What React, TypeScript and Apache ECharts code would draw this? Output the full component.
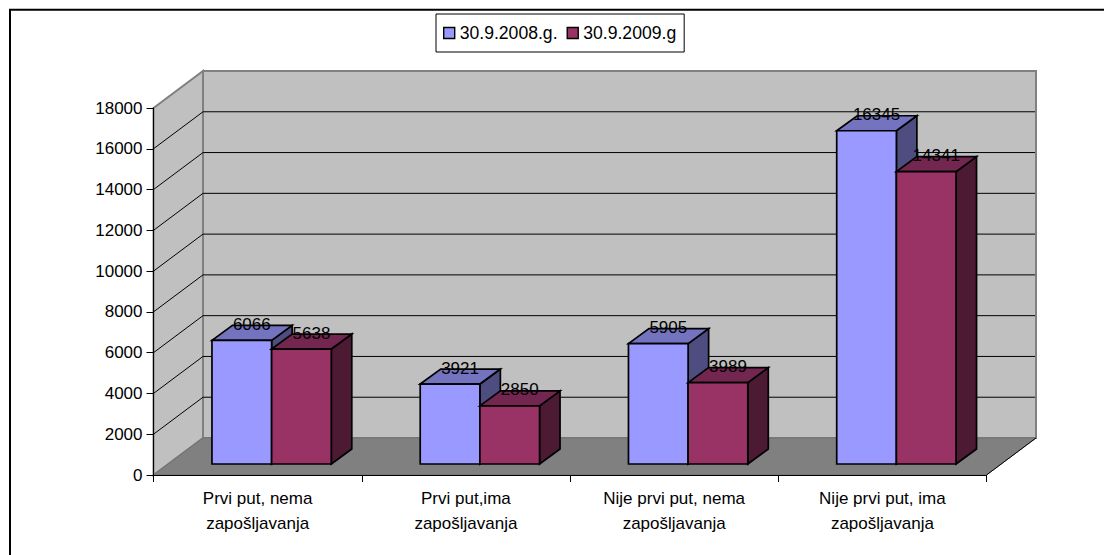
import React, { useEffect, useRef } from "react";
import * as echarts from "echarts";

const categories = [
  "Prvi put, nema\nzapošljavanja",
  "Prvi put,ima\nzapošljavanja",
  "Nije prvi put, nema\nzapošljavanja",
  "Nije prvi put, ima\nzapošljavanja",
];
const seriesNames = ["30.9.2008.g.", "30.9.2009.g"];
const values2008 = [6066, 3921, 5905, 16345];
const values2009 = [5638, 2850, 3989, 14341];
const wallTicks = [2000, 4000, 6000, 8000, 10000, 12000, 14000, 16000];
const axisMax = 18000;
const axisStep = 2000;

const FONT = "Liberation Sans";
const FS = 17;
// projection of the 3D look
const WALL_DX = 49.5;
const WALL_DY = 37;
const BAR_DX = 20.5;
const BAR_DY = 15;
const FLOOR_DX = 14;
const FLOOR_DY = 11;
const BAR_RATIO = 0.2865;

const palette = [
  { front: "#9999ff", top: "#7373bf", side: "#4d4d80" },
  { front: "#993366", top: "#732650", side: "#4d1a33" },
];

function wallRender(params: any, api: any) {
  const c = params.coordSys;
  const l = c.x, r = c.x + c.width, t = c.y, b = c.y + c.height;
  const grey = { fill: "#c0c0c0", stroke: "#808080", lineWidth: 2 };
  return {
    type: "group",
    children: [
      { type: "polygon", shape: { points: [[l + WALL_DX, t - WALL_DY], [r + WALL_DX, t - WALL_DY], [r + WALL_DX, b - WALL_DY], [l + WALL_DX, b - WALL_DY]] }, style: grey },
      { type: "polygon", shape: { points: [[l, t], [l + WALL_DX, t - WALL_DY], [l + WALL_DX, b - WALL_DY], [l, b]] }, style: grey },
      { type: "polygon", shape: { points: [[l, b], [l + WALL_DX, b - WALL_DY], [r + WALL_DX, b - WALL_DY], [r, b]] }, style: { fill: "#808080", stroke: "#707070", lineWidth: 1 } },
      { type: "line", shape: { x1: r, y1: b, x2: r + WALL_DX, y2: b - WALL_DY }, style: { stroke: "#000", lineWidth: 1 } },
    ],
  };
}

function gridRender(params: any, api: any) {
  const c = params.coordSys;
  const y = api.coord([0, api.value(1)])[1];
  return {
    type: "polyline",
    shape: { points: [[c.x, y], [c.x + WALL_DX, y - WALL_DY], [c.x + c.width + WALL_DX - 1, y - WALL_DY]] },
    style: { fill: "none", stroke: "#000", lineWidth: 1 },
  };
}

function barRender(seriesIndex: number) {
  return (params: any, api: any) => {
    const col = palette[seriesIndex];
    const cat = api.value(0);
    const val = api.value(1);
    const center = api.coord([cat, 0]);
    const top = api.coord([cat, val]);
    const w = api.size([1, 0])[0] * BAR_RATIO;
    const x0 = center[0] + FLOOR_DX + (seriesIndex - 1) * w;
    const x1 = x0 + w;
    const yb = center[1] - FLOOR_DY;
    const yt = top[1] - FLOOR_DY;
    const line = { stroke: "#000", lineWidth: 1.7, lineJoin: "miter" };
    return {
      type: "group",
      children: [
        { type: "polygon", shape: { points: [[x1, yt], [x1 + BAR_DX, yt - BAR_DY], [x1 + BAR_DX, yb - BAR_DY], [x1, yb]] }, style: { fill: col.side, ...line } },
        { type: "polygon", shape: { points: [[x0, yt], [x0 + BAR_DX, yt - BAR_DY], [x1 + BAR_DX, yt - BAR_DY], [x1, yt]] }, style: { fill: col.top, ...line } },
        { type: "rect", shape: { x: x0, y: yt, width: w, height: yb - yt }, style: { fill: col.front, ...line } },
        {
          type: "text",
          z2: 100,
          style: {
            text: String(val),
            x: (x0 + x1) / 2 + 10,
            y: yt - 16,
            fill: "#000",
            fontFamily: FONT,
            fontSize: FS,
            align: "center",
            verticalAlign: "middle",
          },
        },
      ],
    };
  };
}

export default function App() {
  const ref = useRef<HTMLDivElement>(null);
  useEffect(() => {
    document.body.style.margin = "0";
    const chart = echarts.init(ref.current!, null, { renderer: "svg" });
    chart.setOption({
      animation: false,
      backgroundColor: "#fff",
      tooltip: { show: false },
      grid: { left: 153.5, right: 117.5, top: 108, bottom: 80, containLabel: false },
      legend: {
        data: seriesNames.map((name) => ({ name, icon: "rect" })),
        left: 436,
        top: 14,
        orient: "horizontal",
        itemWidth: 11,
        itemHeight: 11,
        itemGap: 9,
        padding: [10, 8, 10, 7],
        borderColor: "#000",
        borderWidth: 1,
        backgroundColor: "#fff",
        selectedMode: false,
        itemStyle: { borderColor: "#000", borderWidth: 1.4 },
        textStyle: { fontFamily: FONT, fontSize: 17.6, color: "#000" },
      },
      xAxis: {
        type: "category",
        data: categories,
        z: 5,
        boundaryGap: true,
        axisLine: { show: true, lineStyle: { color: "#000", width: 1 } },
        axisTick: { show: true, length: 7, alignWithLabel: false, lineStyle: { color: "#000", width: 1 } },
        axisLabel: { interval: 0, margin: 11, fontFamily: FONT, fontSize: FS, color: "#000", lineHeight: 25 },
        splitLine: { show: false },
      },
      yAxis: {
        type: "value",
        min: 0,
        max: axisMax,
        interval: axisStep,
        z: 5,
        axisLine: { show: true, lineStyle: { color: "#000", width: 1 } },
        axisTick: { show: true, length: 7, lineStyle: { color: "#000", width: 1 } },
        axisLabel: { margin: 11, fontFamily: FONT, fontSize: FS, color: "#000", formatter: (v: number) => String(v) },
        splitLine: { show: false },
      },
      graphic: [
        { type: "line", z: 10, shape: { x1: 9, y1: 9.75, x2: 1104, y2: 9.75 }, style: { stroke: "#000", lineWidth: 2 } },
        { type: "line", z: 10, shape: { x1: 10, y1: 9, x2: 10, y2: 555 }, style: { stroke: "#000", lineWidth: 2 } },
      ],
      series: [
        { type: "custom", name: "walls", z: 1, silent: true, renderItem: wallRender, data: [[0, 0]], encode: { x: 0, y: 1 } },
        { type: "custom", name: "gridlines", z: 2, silent: true, renderItem: gridRender, data: wallTicks.map((v) => [0, v]), encode: { x: 0, y: 1 } },
        { type: "custom", name: seriesNames[0], z: 3, silent: true, renderItem: barRender(0), itemStyle: { color: palette[0].front }, data: values2008.map((v, i) => [i, v]), encode: { x: 0, y: 1 } },
        { type: "custom", name: seriesNames[1], z: 4, silent: true, renderItem: barRender(1), itemStyle: { color: palette[1].front }, data: values2009.map((v, i) => [i, v]), encode: { x: 0, y: 1 } },
      ],
    });
    return () => chart.dispose();
  }, []);
  return <div ref={ref} style={{ width: 1104, height: 555 }} />;
}
